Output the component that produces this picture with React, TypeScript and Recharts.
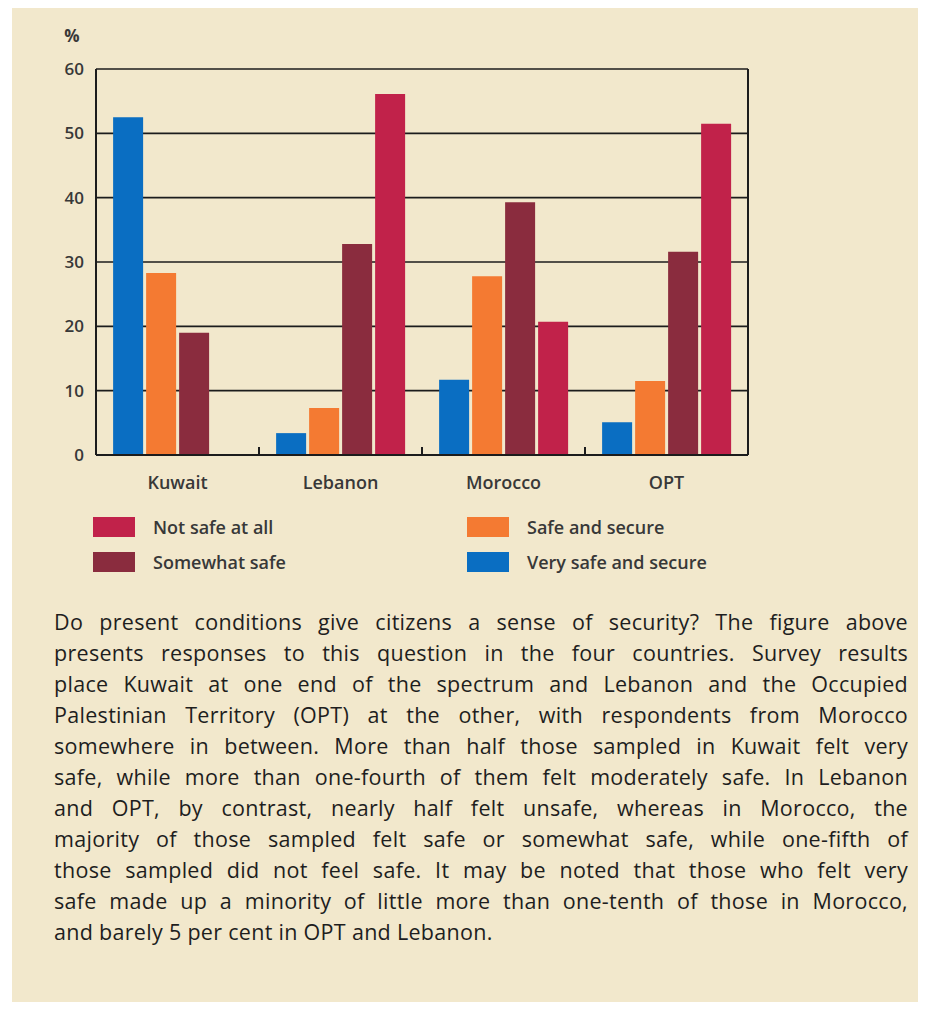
import React from 'react';
import { BarChart, Bar, XAxis, YAxis, CartesianGrid, Legend } from 'recharts';

const countries = ['Kuwait', 'Lebanon', 'Morocco', 'OPT'];
const verySafe = [52.5, 3.4, 11.7, 5.1];
const safe = [28.3, 7.3, 27.8, 11.5];
const somewhatSafe = [19.0, 32.8, 39.3, 31.6];
const notSafe = [0, 56.1, 20.7, 51.5];
const yTicks = [0, 10, 20, 30, 40, 50, 60];

const seriesNames = {
    verySafe: 'Very safe and secure',
    safe: 'Safe and secure',
    somewhatSafe: 'Somewhat safe',
    notSafe: 'Not safe at all',
};
// legend is laid out in two columns, read row by row
const legendOrder = ['Not safe at all', 'Safe and secure', 'Somewhat safe', 'Very safe and secure'];

const paragraphLines = [
    'Do present conditions give citizens a sense of security? The figure above',
    'presents responses to this question in the four countries. Survey results',
    'place Kuwait at one end of the spectrum and Lebanon and the Occupied',
    'Palestinian Territory (OPT) at the other, with respondents from Morocco',
    'somewhere in between. More than half those sampled in Kuwait felt very',
    'safe, while more than one-fourth of them felt moderately safe. In Lebanon',
    'and OPT, by contrast, nearly half felt unsafe, whereas in Morocco, the',
    'majority of those sampled felt safe or somewhat safe, while one-fifth of',
    'those sampled did not feel safe. It may be noted that those who felt very',
    'safe made up a minority of little more than one-tenth of those in Morocco,',
    'and barely 5 per cent in OPT and Lebanon.',
];

const data = countries.map((country, i) => ({
    country,
    verySafe: verySafe[i],
    safe: safe[i],
    somewhatSafe: somewhatSafe[i],
    notSafe: notSafe[i],
}));

const CHART_W = 908;
const CHART_H = 598;
const MARGIN = { top: 61, right: 171, left: 44, bottom: 111 };
const Y_AXIS_W = 40;
const PLOT_W = CHART_W - MARGIN.left - MARGIN.right - Y_AXIS_W - 1;
const BAND = PLOT_W / countries.length;

const BG = '#f2e8cc';
const INK = '#1c1c1c';
const TEXT = '#383838';
const FONT = '"Open Sans", "Noto Sans", sans-serif';

const colors = {
    verySafe: '#0a6ec2',
    safe: '#f47a32',
    somewhatSafe: '#8a2c3e',
    notSafe: '#c1224a',
};

const CountryTick = (props: any) => {
    const { x, y, payload, index } = props;
    return (
        <g>
            {index < countries.length - 1 && (
                <line x1={x + BAND / 2} x2={x + BAND / 2} y1={y} y2={y - 8} stroke={INK} strokeWidth={2} />
            )}
            <text x={x} y={y + 34} textAnchor="middle" fill={TEXT} fontFamily={FONT} fontSize={18} fontWeight={600}>
                {payload.value}
            </text>
        </g>
    );
};

const PercentLabel = (props: any) => {
    const { viewBox } = props;
    return (
        <text x={viewBox.x + viewBox.width - 24} y={viewBox.y - 34} textAnchor="middle" dominantBaseline="central"
              fill={TEXT} fontFamily={FONT} fontSize={17} fontWeight={700}>
            %
        </text>
    );
};

const renderLegend = (props: any) => {
    const items = legendOrder.map(name => props.payload.find((p: any) => p.value === name)).filter(Boolean);
    return (
        <div style={{ display: 'grid', gridTemplateColumns: '374px 300px', rowGap: 15, paddingLeft: 81 }}>
            {items.map((item: any) => (
                <div key={item.value} style={{ display: 'flex', alignItems: 'center', height: 20 }}>
                    <span style={{ width: 42, height: 20, background: item.color, display: 'inline-block' }} />
                    <span style={{ marginLeft: 18, fontFamily: FONT, fontSize: 18, fontWeight: 600, color: TEXT }}>
                        {item.value}
                    </span>
                </div>
            ))}
        </div>
    );
};

export default function App() {
    return (
        <div style={{ marginLeft: 4, width: CHART_W, height: 994, background: BG, position: 'relative' }}>
            <BarChart
                width={CHART_W}
                height={CHART_H}
                data={data}
                margin={MARGIN}
                barCategoryGap="10.5%"
                barGap={3}
            >
                <CartesianGrid horizontal vertical={false} stroke={INK} strokeWidth={1.6} />
                <XAxis
                    dataKey="country"
                    axisLine={{ stroke: INK, strokeWidth: 2 }}
                    tickLine={false}
                    tickSize={0}
                    tickMargin={0}
                    height={40}
                    tick={<CountryTick />}
                />
                <YAxis
                    domain={[0, 60]}
                    ticks={yTicks}
                    width={Y_AXIS_W}
                    axisLine={{ stroke: INK, strokeWidth: 2 }}
                    tickLine={false}
                    tickSize={0}
                    tickMargin={12}
                    tick={{ fill: TEXT, fontFamily: FONT, fontSize: 17, fontWeight: 600 }}
                    label={<PercentLabel />}
                />
                <YAxis
                    yAxisId="right"
                    orientation="right"
                    domain={[0, 60]}
                    ticks={yTicks}
                    width={1}
                    axisLine={{ stroke: INK, strokeWidth: 2 }}
                    tickLine={{ stroke: INK, strokeWidth: 1.6 }}
                    tickSize={4}
                    tick={false}
                />
                <Legend
                    layout="horizontal"
                    verticalAlign="middle"
                    align="center"
                    content={renderLegend}
                    wrapperStyle={{ top: 509, left: 0, width: CHART_W }}
                />
                <Bar dataKey="verySafe" name={seriesNames.verySafe} fill={colors.verySafe} isAnimationActive={false} />
                <Bar dataKey="safe" name={seriesNames.safe} fill={colors.safe} isAnimationActive={false} />
                <Bar dataKey="somewhatSafe" name={seriesNames.somewhatSafe} fill={colors.somewhatSafe} isAnimationActive={false} />
                <Bar dataKey="notSafe" name={seriesNames.notSafe} fill={colors.notSafe} isAnimationActive={false} />
            </BarChart>
            <div style={{ marginLeft: 42, width: 854, fontFamily: FONT, fontSize: 21.5, letterSpacing: 0.3, lineHeight: '31px', color: '#1e1e1e' }}>
                {paragraphLines.map((line, i) => (
                    <div key={i} style={{
                        whiteSpace: 'nowrap',
                        textAlign: 'justify',
                        textAlignLast: i < paragraphLines.length - 1 ? 'justify' : 'left',
                    }}>
                        {line}
                    </div>
                ))}
            </div>
        </div>
    );
}
